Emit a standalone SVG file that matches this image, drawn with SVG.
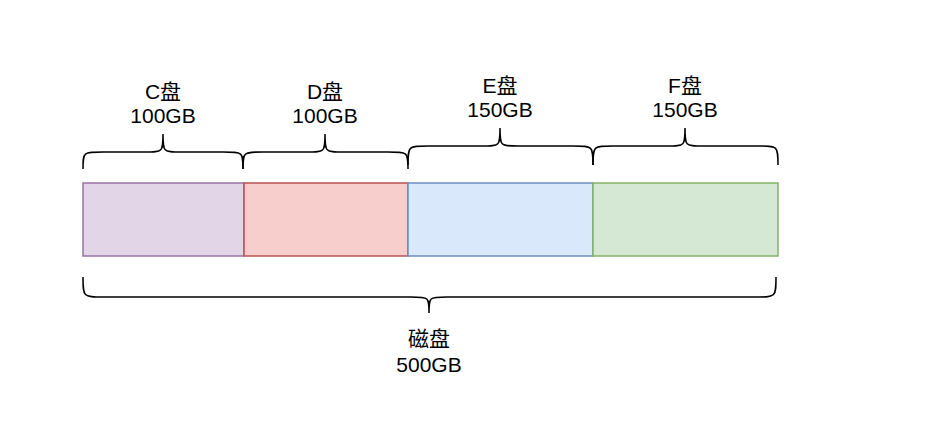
<svg xmlns="http://www.w3.org/2000/svg" width="940" height="434" viewBox="0 0 940 434">
<style>
text{font-family:"Liberation Sans","Noto Sans CJK SC",sans-serif;font-size:21px;text-anchor:middle;fill:#000}
.b{fill:none;stroke:#000;stroke-width:1.5}
</style>
<rect width="940" height="434" fill="#fff"/>
<g id="c"><rect x="83" y="183" width="161" height="73" fill="#e1d5e7" stroke="#9673a6" stroke-width="1.5"/></g>
<g id="d"><rect x="244" y="183" width="164" height="73" fill="#f8cecc" stroke="#b85450" stroke-width="1.5"/></g>
<g id="e"><rect x="408" y="183" width="185" height="73" fill="#dae8fc" stroke="#6c8ebf" stroke-width="1.5"/></g>
<g id="f"><rect x="593" y="183" width="185" height="73" fill="#d5e8d4" stroke="#82b366" stroke-width="1.5"/></g>
<g id="braces">
<path class="b" d="M83,169 C83,152 83,152 103,152 L145,152 C163,152 163,152 163,134 C163,152 163,152 181,152 L223,152 C243,152 243,152 243,169"/>
<path class="b" d="M243,169 C243,152 243,152 263,152 L307,152 C325,152 325,152 325,134 C325,152 325,152 343,152 L388,152 C408,152 408,152 408,169"/>
<path class="b" d="M408,165 C408,146 408,146 428,146 L482,146 C500,146 500,146 500,128 C500,146 500,146 518,146 L573,146 C593,146 593,146 593,165"/>
<path class="b" d="M593,165 C593,146 593,146 613,146 L667,146 C685,146 685,146 685,128 C685,146 685,146 703,146 L758,146 C778,146 778,146 778,165"/>
<path class="b" d="M83,277 C83,297 83,297 103,297 L411,297 C429,297 429,297 429,313 C429,297 429,297 447,297 L756,297 C776,297 776,297 776,277"/>
</g>
<g id="labels">
<text x="163" y="99">C盘</text><text x="163" y="123">100GB</text>
<text x="325" y="99">D盘</text><text x="325" y="123">100GB</text>
<text x="500" y="93">E盘</text><text x="500" y="117">150GB</text>
<text x="685" y="93">F盘</text><text x="685" y="117">150GB</text>
<text x="429" y="346">磁盘</text><text x="429" y="372">500GB</text>
</g>
</svg>
